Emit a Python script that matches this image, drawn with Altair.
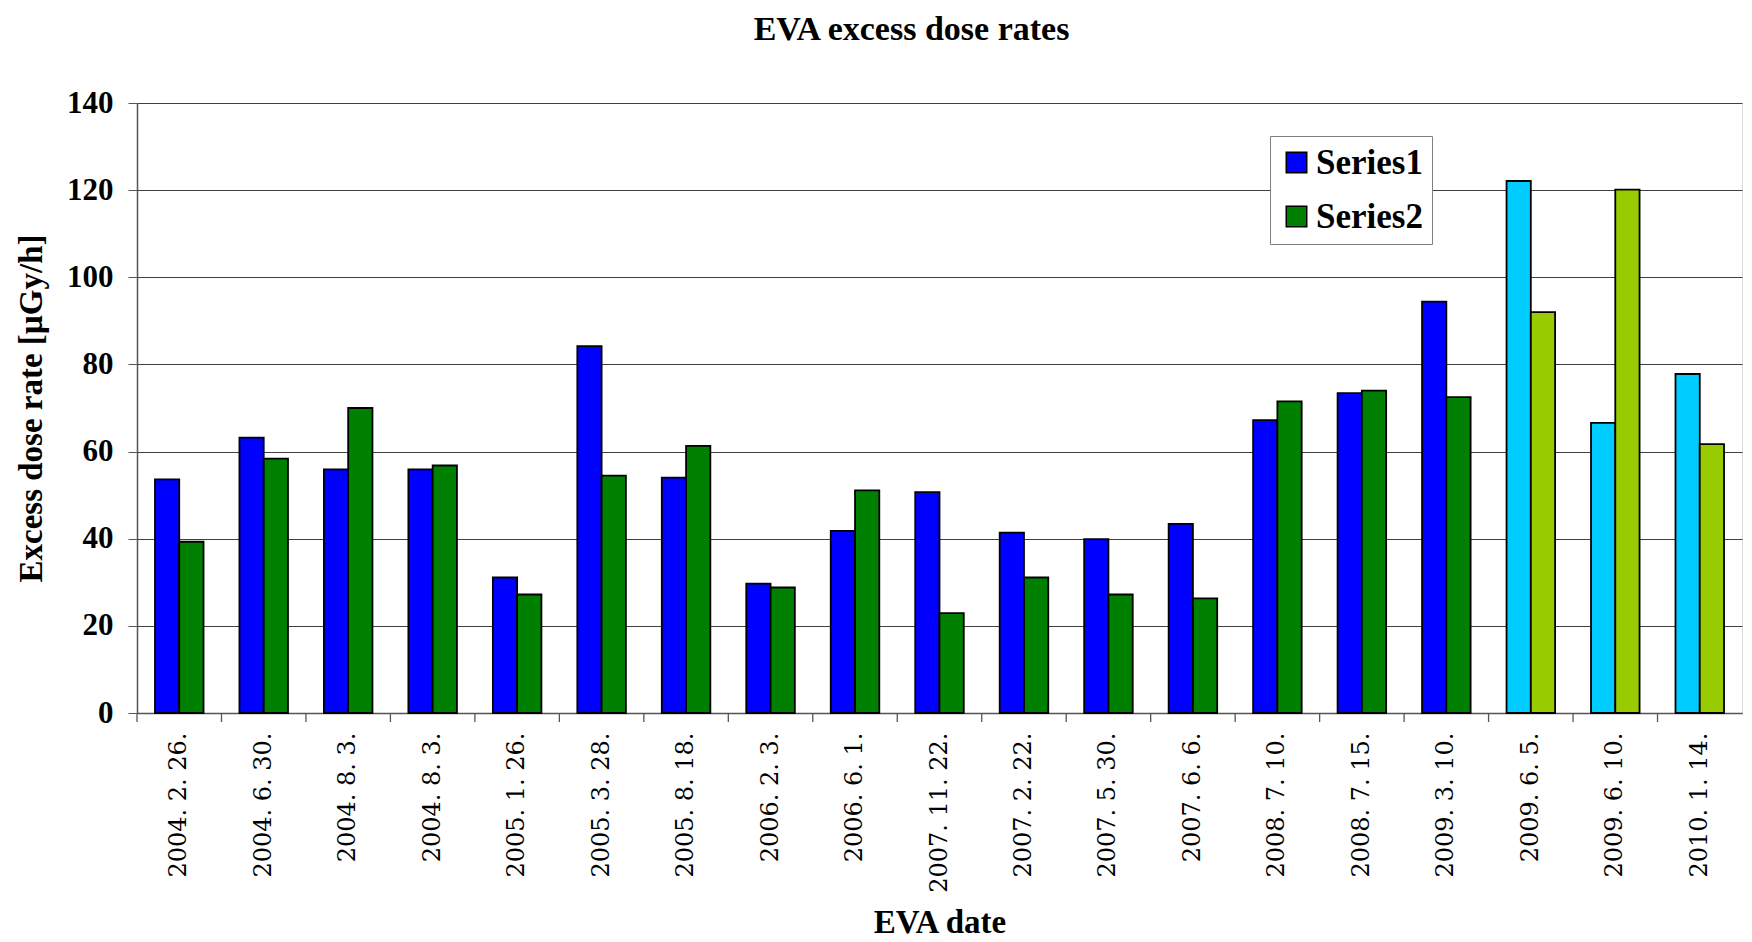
import altair as alt
import pandas as pd

dates = ["2004. 2. 26.", "2004. 6. 30.", "2004. 8. 3.", "2004. 8. 3.", "2005. 1. 26.",
         "2005. 3. 28.", "2005. 8. 18.", "2006. 2. 3.", "2006. 6. 1.", "2007. 11. 22.",
         "2007. 2. 22.", "2007. 5. 30.", "2007. 6. 6.", "2008. 7. 10.", "2008. 7. 15.",
         "2009. 3. 10.", "2009. 6. 5.", "2009. 6. 10.", "2010. 1. 14."]
series1 = [53.6, 63.2, 55.9, 55.9, 31.1, 84.2, 54.0, 29.7, 41.8, 50.7,
           41.4, 39.9, 43.4, 67.2, 73.4, 94.4, 122.1, 66.6, 77.8]
series2 = [39.3, 58.4, 70.0, 56.8, 27.2, 54.5, 61.3, 28.8, 51.1, 22.9,
           31.1, 27.2, 26.3, 71.5, 74.0, 72.5, 92.0, 120.1, 61.7]
highlight_from = 16  # last three EVAs drawn in lighter colours

groups = ["Series1", "Series2", "Series1 ", "Series2 "]
colors = ["#0000FF", "#008000", "#00CCFF", "#99CC00"]

rows = []
for i, d in enumerate(dates):
    key = f"{i:02d}|{d}"
    for s, vals in (("Series1", series1), ("Series2", series2)):
        grp = s if i < highlight_from else s + " "
        rows.append({"key": key, "series": s, "grp": grp, "value": vals[i]})
df = pd.DataFrame(rows)
keys = [f"{i:02d}|{d}" for i, d in enumerate(dates)]

W, H = 1605, 610
SERIF = "Liberation Serif"

xscale = alt.Scale(domain=keys, paddingInner=0, paddingOuter=0)

bars = alt.Chart(df).mark_bar(stroke="black", strokeWidth=1.8).encode(
    x=alt.X("key:N", scale=xscale, sort=keys,
            axis=alt.Axis(title="EVA date", labelExpr="split(datum.value, '|')[1]",
                          labelAngle=-90, labelAlign="right", labelBaseline="middle",
                          labelFont="DejaVu Serif", labelFontSize=24, labelColor="black",
                          labelPadding=19, ticks=False, tickSize=0,
                          domainColor="#555555", domainWidth=1.5,
                          titleFont=SERIF, titleFontSize=33, titleFontWeight="bold",
                          titleColor="black", titleY=209, titleBaseline="middle")),
    xOffset=alt.XOffset("series:N", scale=alt.Scale(paddingInner=0, paddingOuter=0.74)),
    y=alt.Y("value:Q", scale=alt.Scale(domain=[0, 140], nice=False),
            axis=alt.Axis(title="Excess dose rate [µGy/h]", values=list(range(0, 141, 20)),
                          grid=True, gridColor="#404040", gridWidth=1.2,
                          tickSize=9, tickColor="#555555", domainColor="#555555", domainWidth=1.5,
                          labelFont=SERIF, labelFontSize=31, labelFontWeight="bold",
                          labelColor="black", labelPadding=15,
                          titleFont=SERIF, titleFontSize=33, titleFontWeight="bold",
                          titleColor="black", titleX=-106, titleBaseline="middle")),
    color=alt.Color("grp:N", scale=alt.Scale(domain=groups, range=colors),
                    legend=alt.Legend(title=None, values=["Series1", "Series2"],
                                      orient="none", legendX=1133, legendY=33,
                                      symbolType="square", symbolSize=420,
                                      symbolStrokeColor="black", symbolStrokeWidth=1.5,
                                      labelFont=SERIF, labelFontSize=35, labelFontWeight="bold",
                                      labelColor="black", rowPadding=18, padding=9,
                                      fillColor="white", strokeColor="#808080",
                                      labelOffset=2)),
)

ticks = alt.Chart(pd.DataFrame({"key": keys})).mark_rule(color="#555555", strokeWidth=1.3).encode(
    x=alt.X("key:N", scale=xscale, sort=keys, bandPosition=0),
    y=alt.value(H),
    y2=alt.value(H + 9),
)

chart = alt.layer(ticks, bars).properties(
    width=W, height=H,
    title=alt.Title("EVA excess dose rates", font=SERIF, fontSize=34, fontWeight="bold",
                    color="black", anchor="middle", offset=40, dx=-28),
    autosize=alt.AutoSizeParams(type="none"),
    padding={"left": 129, "top": 95, "right": 2, "bottom": 228},
).configure_view(stroke="#808080", strokeWidth=1.5).configure(background="white")

chart.save("out.html", embed_options={"renderer": "svg", "actions": False})
